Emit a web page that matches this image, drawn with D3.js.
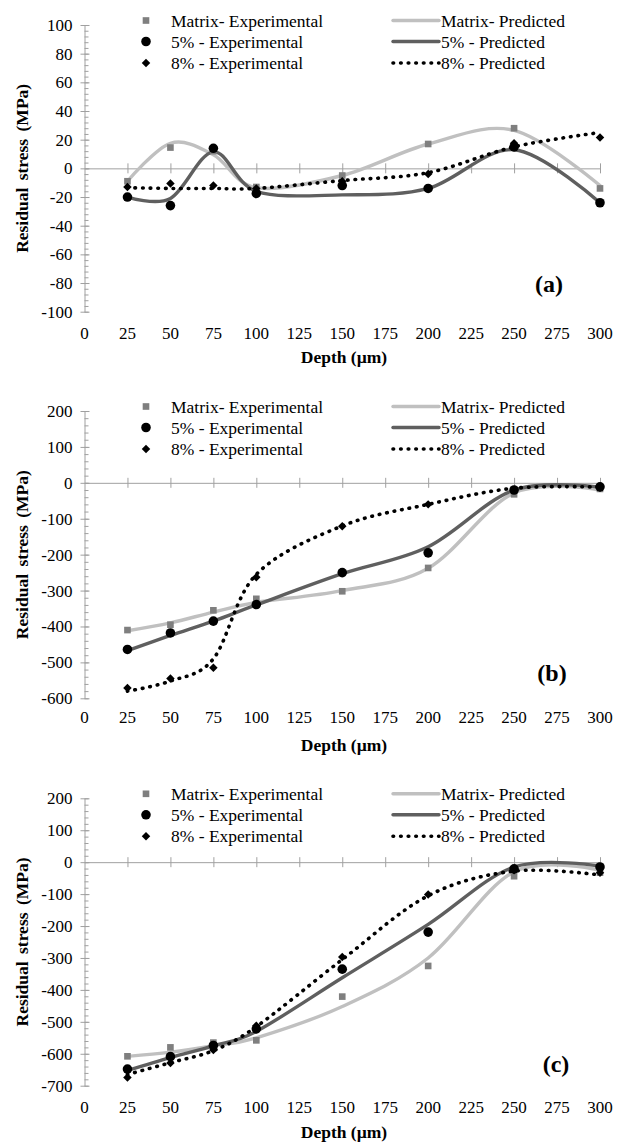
<!DOCTYPE html>
<html><head><meta charset="utf-8">
<script src="https://cdn.jsdelivr.net/npm/d3@7"></script>
<style>body{margin:0;background:#fff}svg{display:block}</style>
</head><body>
<svg id="chart" width="625" height="1142"></svg>
<script>
// ---- data ----
const depths = [25, 50, 75, 100, 150, 200, 250, 300];
const xTicks = [0, 25, 50, 75, 100, 125, 150, 175, 200, 225, 250, 275, 300];
const seriesNames = ["Matrix- Experimental", "5% - Experimental", "8% - Experimental",
                     "Matrix- Predicted", "5% - Predicted", "8% - Predicted"];
// panel (a)
const aTicks = [-100, -80, -60, -40, -20, 0, 20, 40, 60, 80, 100];
const aMatrixExp  = [-9, 14.5, 12, -13, -5, 17, 28, -14];
const a5Exp       = [-20, -26, 14, -17.5, -12, -14, 15, -24];
const a8Exp       = [-13, -10.5, -12, -14, -9, -4, 17.5, 21.5];
const aMatrixPred = [-9, 17.5, 9.5, -13.5, -5, 17, 26.5, -12];
const a5Pred      = [-20, -21, 11.5, -16, -18.5, -14, 13, -24];
const a8Pred      = [-13.5, -14, -14, -14, -8.5, -3, 15, 25];
// panel (b)
const bTicks = [-600, -500, -400, -300, -200, -100, 0, 100, 200];
const bMatrixExp  = [-410, -395, -355, -323, -302, -237, -32, -17];
const b5Exp       = [-464, -418, -385, -339, -250, -195, -20, -11];
const b8Exp       = [-571, -545, -515, -263, -121, -60, -19, -14];
const bMatrixPred = [-412, -390, -360, -333, -300, -238, -28, -20];
const b5Pred      = [-467, -425, -385, -340, -253, -178, -20, -12];
const b8Pred      = [-580, -552, -490, -255, -120, -60, -15, -12];
// panel (c)
const cTicks = [-700, -600, -500, -400, -300, -200, -100, 0, 100, 200];
const cMatrixExp  = [-608, -580, -565, -558, -421, -325, -44, -33];
const c5Exp       = [-648, -609, -574, -522, -335, -219, -21, -15];
const c8Exp       = [-674, -629, -588, -512, -297, -101, -25, -33];
const cMatrixPred = [-608, -595, -575, -550, -452, -300, -30, -25];
const c5Pred      = [-652, -612, -575, -530, -362, -195, -15, -12];
const c8Pred      = [-665, -628, -590, -515, -305, -105, -28, -40];

const panels = [
  {label: "(a)", ticks: aTicks, minor: 4, top: 25, bottom: 311.7,
   exp: [aMatrixExp, a5Exp, a8Exp], pred: [aMatrixPred, a5Pred, a8Pred],
   tickY: 333, titleY: 357, labelPos: [549, 284]},
  {label: "(b)", ticks: bTicks, minor: 20, top: 411, bottom: 698.3,
   exp: [bMatrixExp, b5Exp, b8Exp], pred: [bMatrixPred, b5Pred, b8Pred],
   tickY: 717, titleY: 745, labelPos: [552, 673]},
  {label: "(c)", ticks: cTicks, minor: 20, top: 798.3, bottom: 1085.7,
   exp: [cMatrixExp, c5Exp, c8Exp], pred: [cMatrixPred, c5Pred, c8Pred],
   tickY: 1107, titleY: 1132, labelPos: [556, 1064]}
];

// ---- styles ----
const axisColor = "#a0a0a0";
const diamond = {draw(ctx, size) {
  const r = Math.sqrt(size / 2);
  ctx.moveTo(0, -r); ctx.lineTo(r, 0); ctx.lineTo(0, r); ctx.lineTo(-r, 0); ctx.closePath();
}};
const expStyle = [{shape: d3.symbolSquare, size: 44, fill: "#7f7f7f"},
                  {shape: d3.symbolCircle, size: 72, fill: "#000"},
                  {shape: diamond, size: 36, fill: "#000"}];
const predStyle = [{stroke: "#c0c0c0", width: 3.4, dash: null},
                   {stroke: "#5f5f5f", width: 3.4, dash: null},
                   {stroke: "#000", width: 3.6, dash: "0.6 7"}];
const serif = "Liberation Serif, Times New Roman, serif";

const svg = d3.select("#chart");
svg.append("rect").attr("width", 625).attr("height", 1142).attr("fill", "#fff");

const x = d3.scaleLinear().domain([0, 300]).range([84.5, 600]);
const line = d3.line().curve(d3.curveCardinal.tension(0));

panels.forEach(p => {
  const y = d3.scaleLinear().domain([p.ticks[0], p.ticks[p.ticks.length - 1]]).range([p.bottom, p.top]);
  const g = svg.append("g");

  // y axis minor ticks
  const minorVals = d3.range(p.ticks[0], p.ticks[p.ticks.length - 1] + 0.001, p.minor);
  const yMinor = d3.axisRight(y).tickValues(minorVals).tickSize(4).tickFormat("");
  const gm = g.append("g").attr("transform", `translate(${x(0)},0)`).call(yMinor);
  gm.select(".domain").remove();
  gm.selectAll("line").attr("stroke", axisColor);

  // y axis major
  const yAxis = d3.axisLeft(y).tickValues(p.ticks).tickSize(4).tickSizeOuter(0).tickPadding(6)
    .tickFormat(d3.format("d"));
  const ga = g.append("g").attr("transform", `translate(${x(0)},0)`).call(yAxis);
  ga.select(".domain").attr("stroke", axisColor);
  ga.selectAll(".tick line").attr("stroke", axisColor).attr("x2", 5).attr("x1", -4);
  ga.selectAll("text").attr("font-family", serif).attr("font-size", 17).attr("fill", "#000")
    .attr("x", -12).text(d => d < 0 ? "-" + Math.abs(d) : d);

  // x axis along zero line
  const xAxis = d3.axisBottom(x).tickValues(xTicks).tickSize(5).tickSizeOuter(0).tickFormat("");
  const gx = g.append("g").attr("transform", `translate(0,${y(0)})`).call(xAxis);
  gx.select(".domain").attr("stroke", axisColor);
  gx.selectAll(".tick line").attr("stroke", axisColor).attr("y1", -5).attr("y2", 5);
  gx.selectAll(".tick").filter(d => d === 0).remove();

  // x tick labels at bottom
  g.selectAll(".xl").data(xTicks).enter().append("text")
    .attr("x", d => x(d)).attr("y", p.tickY).attr("dy", "0.35em")
    .attr("text-anchor", "middle").attr("font-family", serif).attr("font-size", 17)
    .text(d => d);

  // titles
  g.append("text").attr("x", 344).attr("y", p.titleY).attr("dy", "0.35em")
    .attr("text-anchor", "middle").attr("font-family", serif).attr("font-weight", "bold")
    .attr("font-size", 17.5).text("Depth (µm)");
  g.append("text").attr("transform", `translate(22,${(p.top + p.bottom) / 2}) rotate(-90)`)
    .attr("dy", "0.35em").attr("text-anchor", "middle").attr("font-family", serif)
    .attr("font-weight", "bold").attr("font-size", 17.5).attr("word-spacing", 3)
    .text("Residual stress (MPa)");
  g.append("text").attr("x", p.labelPos[0]).attr("y", p.labelPos[1]).attr("dy", "0.35em")
    .attr("text-anchor", "middle").attr("font-family", serif).attr("font-weight", "bold")
    .attr("font-size", 24).text(p.label);

  // predicted lines
  p.pred.forEach((vals, i) => {
    const s = predStyle[i];
    g.append("path").datum(depths.map((d, k) => [x(d), y(vals[k])]))
      .attr("d", line).attr("fill", "none").attr("stroke", s.stroke)
      .attr("stroke-width", s.width).attr("stroke-linecap", "round")
      .attr("stroke-dasharray", s.dash);
  });

  // experimental markers
  p.exp.forEach((vals, i) => {
    const s = expStyle[i];
    g.selectAll(null).data(depths.map((d, k) => [d, vals[k]])).enter().append("path")
      .attr("transform", d => `translate(${x(d[0])},${y(d[1])})`)
      .attr("d", d3.symbol().type(s.shape).size(s.size)).attr("fill", s.fill);
  });

  // legend
  const rows = [p.top - 4.5, p.top + 16.5, p.top + 38];
  const lg = g.append("g");
  expStyle.forEach((s, i) => {
    lg.append("path").attr("transform", `translate(146,${rows[i]})`)
      .attr("d", d3.symbol().type(s.shape).size(s.size)).attr("fill", s.fill);
    lg.append("text").attr("x", 171).attr("y", rows[i]).attr("dy", "0.35em")
      .attr("font-family", serif).attr("font-size", 17.5).text(seriesNames[i]);
  });
  predStyle.forEach((s, i) => {
    lg.append("line").attr("x1", 393).attr("x2", 439).attr("y1", rows[i]).attr("y2", rows[i])
      .attr("stroke", s.stroke).attr("stroke-width", s.width).attr("stroke-linecap", "round")
      .attr("stroke-dasharray", s.dash);
    lg.append("text").attr("x", 441).attr("y", rows[i]).attr("dy", "0.35em")
      .attr("font-family", serif).attr("font-size", 17.5).text(seriesNames[i + 3]);
  });
});
</script>
</body></html>
